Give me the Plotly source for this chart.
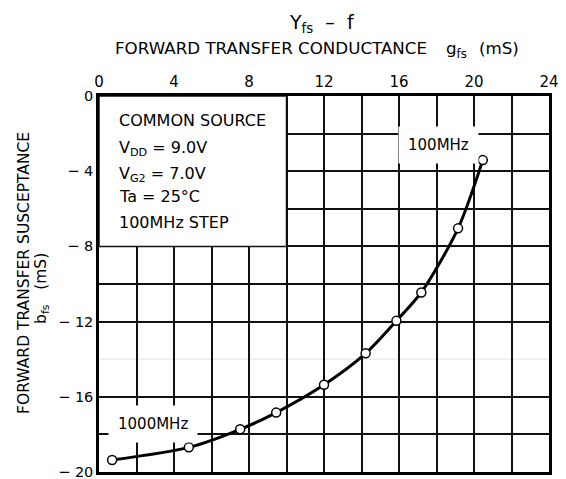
import plotly.graph_objects as go

# Data (100 MHz step, from 100 MHz to 1000 MHz)
freq_mhz = [100, 200, 300, 400, 500, 600, 700, 800, 900, 1000]
gfs = [20.47, 19.15, 17.19, 15.86, 14.22, 12.0, 9.45, 7.53, 4.79, 0.70]
bfs = [-3.41, -7.04, -10.45, -11.96, -13.69, -15.36, -16.84, -17.73, -18.69, -19.36]

x_ticks = list(range(0, 25, 2))
x_ticktext = [str(v) if v % 4 == 0 else "" for v in x_ticks]
y_ticks = [0, -2, -4, -6, -8, -10, -12, -16, -18, -20]
y_ticktext = ["0" if v == 0 else ("\u2212 " + str(-v) if v % 4 == 0 else "") for v in y_ticks]

FONT = "DejaVu Sans"
OFF = 8  # page body margin
PL, PR, PT, PB = 99, 552, 96, 471  # plot edges in screenshot pixels
W, H = 566 - OFF, 479
L, T = PL - OFF, PT - OFF
R, B = W - (PR - OFF), 7
PW, PH = PR - PL, PB - PT


def px(xp):
    return (xp - PL) / PW


def py(yp):
    return (PB - yp) / PH


def txt(text, x, y, size, xanchor="center", **kw):
    return dict(text=text, xref="paper", yref="paper", x=px(x), y=py(y),
                xanchor=xanchor, yanchor="middle", showarrow=False,
                font=dict(family=FONT, size=size, color="black"), **kw)


fig = go.Figure()
fig.add_trace(go.Scatter(
    x=gfs, y=bfs, mode="lines+markers",
    line=dict(color="black", width=3, shape="spline", smoothing=0.8),
    marker=dict(size=9, color="white", line=dict(color="black", width=1.5)),
    hoverinfo="skip", showlegend=False,
))

shapes = [
    dict(type="line", xref="x", yref="y", x0=0, x1=24, y0=-14, y1=-14,
         line=dict(color="#e4e4e4", width=1), layer="below"),
    dict(type="rect", xref="x", yref="y", x0=0, x1=10, y0=0, y1=-8,
         fillcolor="white", line=dict(color="#111", width=1.5), layer="between"),
]

annotations = [
    txt("Y<sub>fs</sub>  \u2013  f", 323, 24, 19),
    txt("FORWARD TRANSFER CONDUCTANCE", 113, 48, 16.7, xanchor="left"),
    txt("g<sub>fs</sub>", 446, 50, 16.7, xanchor="left"),
    txt("(mS)", 524, 48, 16.7, xanchor="right"),
    txt("FORWARD TRANSFER SUSCEPTANCE", 24, 272, 15.5, textangle=-90),
    txt("b<sub>fs</sub>   (mS)", 41, 288, 15.5, textangle=-90),
    txt("100MHz", 441, 145, 15, bgcolor="white", borderpad=9),
    txt("1000MHz", 153, 423, 15, bgcolor="white", borderpad=9),
]
box_lines = ["COMMON SOURCE", "V<sub>DD</sub> = 9.0V", "V<sub>G2</sub> = 7.0V",
             "Ta = 25\u00b0C", "100MHz STEP"]
box_y = [120, 148, 174, 196, 222]
for t, yy in zip(box_lines, box_y):
    annotations.append(txt(t, 117, yy, 16, xanchor="left"))

fig.update_layout(
    width=W, height=H,
    margin=dict(l=L, r=R, t=T, b=B),
    paper_bgcolor="white", plot_bgcolor="white",
    font=dict(family=FONT, size=15, color="black"),
    shapes=shapes, annotations=annotations,
    xaxis=dict(range=[0, 24], side="top", tickmode="array", tickvals=x_ticks,
               ticktext=x_ticktext, showgrid=True, gridcolor="#111", gridwidth=1.5,
               zeroline=False, showline=True, linecolor="black", linewidth=2.5,
               mirror=True, ticks="", tickfont=dict(size=15)),
    yaxis=dict(range=[-20, 0], tickmode="array", tickvals=y_ticks,
               ticktext=y_ticktext, showgrid=True, gridcolor="#111", gridwidth=1.5,
               zeroline=False, showline=True, linecolor="black", linewidth=2.5,
               mirror=True, ticks="", tickfont=dict(size=14.5)),
)

fig.write_html("out.html")
